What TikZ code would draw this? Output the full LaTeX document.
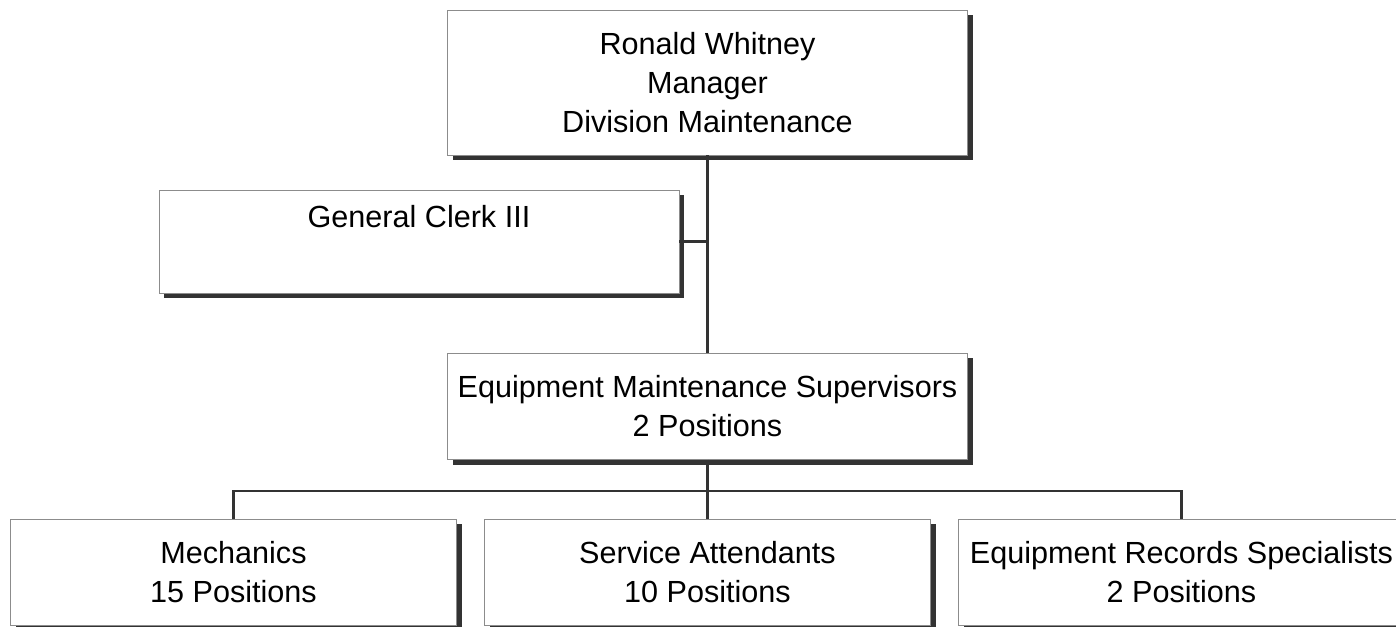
\documentclass[tikz,border=0pt]{standalone}
\usepackage{fontspec}
\setmainfont{Liberation Sans}
\usetikzlibrary{shadows, positioning}
\tikzstyle{post} = [rectangle, minimum width=8.92cm, minimum height=2.12cm, text centered, align=center, draw=black!45, line width=0.4pt, fill=white, drop shadow={shadow xshift=0.1cm, shadow yshift=-0.1cm, fill=black!80, opacity=1}]
\tikzstyle{wide} = [post, minimum width=10.4cm]
\tikzstyle{line} = [line width=1.3pt, draw=black!80]

\begin{document}
\begin{tikzpicture}[node distance=9.48cm, font=\fontsize{17.4}{22.2}\selectfont]
\useasboundingbox (0,0) rectangle (27.92,-12.54);

% Manager on top
\node (manager) [wide, minimum height=2.9cm] at (14.15,-1.65) {Ronald Whitney\\Manager\\Division Maintenance};

\node (clerk) [wide, minimum height=2.06cm, left of=manager, xshift=3.71cm, yshift=-3.18cm] {General Clerk III\\\strut};

\node (supervisors) [wide, below of=manager, yshift=3cm] {Equipment Maintenance Supervisors\\2 Positions};

% Bottom row
\node (attendants) [post, below of=supervisors, yshift=6.17cm] {Service Attendants\\10 Positions};
\node (mechanics) [post, left of=attendants] {Mechanics\\15 Positions};
\node (records) [post, right of=attendants] {Equipment Records Specialists\\2 Positions};

\coordinate (bus) at (0,-9.82);

\draw[line] (manager.south) -- (manager.south |- supervisors.north);
\draw[line] (clerk.east) -- (clerk.east -| manager.south);
\draw[line] (supervisors.south) -- (supervisors.south |- bus);
\draw[line] (mechanics.north) -- (mechanics.north |- bus) -- (records.north |- bus) -- (records.north);
\draw[line] (attendants.north) -- (attendants.north |- bus);

\end{tikzpicture}
\end{document}
